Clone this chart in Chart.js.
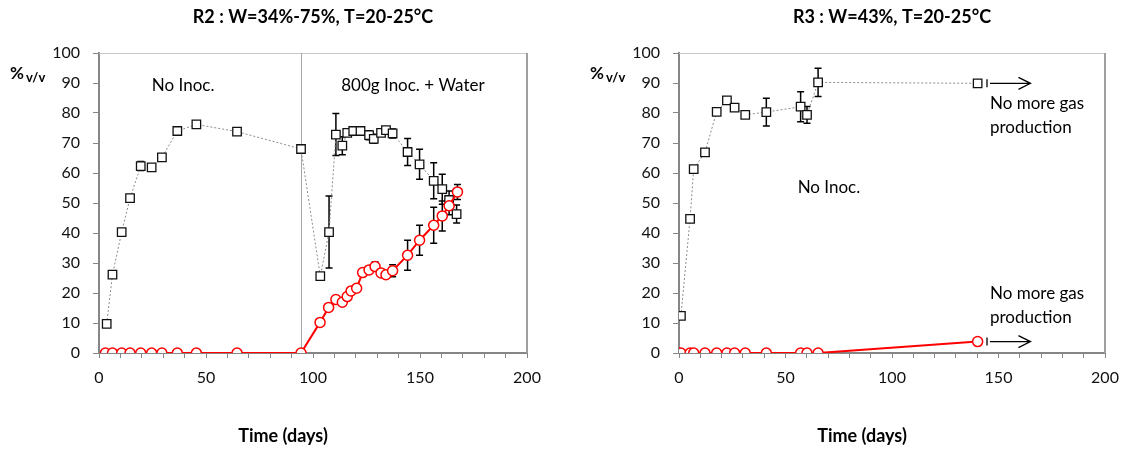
<!DOCTYPE html>
<html>
<head>
<meta charset="utf-8">
<script src="https://cdn.jsdelivr.net/npm/chart.js@4"></script>
<style>
  body { margin: 0; background: #fff; }
  #wrap { position: relative; width: 1129px; height: 453px; }
  canvas { position: absolute; top: 0; }
</style>
</head>
<body>
<div id="wrap">
  <canvas id="r2" width="560" height="453" style="left:0"></canvas>
  <canvas id="r3" width="549" height="453" style="left:580px"></canvas>
</div>
<script>
// R2 - squares (dotted grey line)
const r2SqDays = [3.6, 6.3, 10.6, 14.5, 19.5, 24.6, 29.4, 36.6, 45.5, 64.5, 94.4, 103.4, 107.5, 110.7, 113.7, 116, 118.8, 122.2, 126.2, 128.4, 131.8, 134.1, 137.2, 144.2, 149.8, 156.4, 160.4, 163.6, 167.1];
const r2SqVals = [9.7, 26.1, 40.3, 51.6, 62.3, 61.9, 65.2, 74, 76.2, 73.8, 68, 25.6, 40.3, 72.8, 69.1, 73.4, 74, 74, 72.6, 71.4, 73.4, 74.3, 73.2, 67, 62.9, 57.4, 54.6, 51, 46.3];
const r2SqErr  = [0, 0, 0, 0, 1.5, 0, 0, 0, 0, 0, 0, 0, 12, 7, 3, 1, 1, 1, 1.5, 1.5, 1, 1, 1.5, 4.5, 5, 6, 5, 3, 3];
// R2 - circles (red line)
const r2RdDays = [3, 6.3, 10.6, 14.5, 19.5, 24.6, 29.4, 36.6, 45.5, 64.5, 94.4, 103.3, 107.3, 110.7, 113.7, 116, 117.8, 120.4, 123.2, 126.2, 129, 131.8, 134.1, 137.2, 144.2, 149.8, 156.4, 160.4, 163.6, 167.5];
const r2RdVals = [0, 0, 0, 0, 0, 0, 0, 0, 0, 0, 0, 10.2, 15.2, 17.8, 16.9, 18.8, 20.7, 21.6, 26.8, 27.7, 28.8, 26.7, 26.1, 27.4, 32.6, 37.6, 42.6, 45.7, 49.1, 53.7];
const r2RdErr  = [0, 0, 0, 0, 0, 0, 0, 0, 0, 0, 0, 0, 0, 0, 0, 0, 0, 0, 0, 0, 1.5, 0, 0, 2, 5, 5, 6, 5, 3, 2.5];
const r2InocDay = 94.4;

// R3
const r3Days   = [0.9, 5.2, 6.9, 12.2, 17.7, 22.5, 26.1, 31.1, 41, 57.1, 60.1, 65.3, 140.2];
const r3SqVals = [12.4, 44.7, 61.3, 66.9, 80.4, 84.2, 81.8, 79.4, 80.3, 82.1, 79.4, 90.2, 89.9];
const r3SqErr  = [0, 1, 0, 0, 0, 0, 0, 0, 4.6, 5, 2.8, 4.7, 0];
const r3RdVals = [0, 0, 0, 0, 0, 0, 0, 0, 0, 0, 0, 0, 3.8];
const r3ArrowDays = [144.6, 165];

const xTicks = [0, 50, 100, 150, 200];

const FONT = 'Lato, "Open Sans", sans-serif';
Chart.defaults.font.family = FONT;
Chart.defaults.color = '#111';

function pts(days, vals) {
  return days.map((d, i) => ({ x: d, y: vals[i] }));
}

// frame, split line, error bars, texts, arrows
const deco = {
  id: 'deco',
  beforeDatasetsDraw(chart, args, o) {
    const { ctx, chartArea: a, scales: { x, y } } = chart;
    ctx.save();
    ctx.strokeStyle = '#c8c8c8';
    ctx.lineWidth = 1;
    ctx.beginPath();
    ctx.moveTo(a.left, a.top + 0.5);
    ctx.lineTo(a.right, a.top + 0.5);
    ctx.stroke();
    ctx.strokeStyle = '#a0a0a0';
    ctx.lineWidth = 2;
    ctx.beginPath();
    ctx.moveTo(a.right, a.top);
    ctx.lineTo(a.right, a.bottom);
    ctx.stroke();
    if (o.split != null) {
      const sx = Math.round(x.getPixelForValue(o.split)) + 0.5;
      ctx.strokeStyle = '#a6a6a6';
      ctx.lineWidth = 1;
      ctx.beginPath();
      ctx.moveTo(sx, a.top);
      ctx.lineTo(sx, a.bottom);
      ctx.stroke();
    }
    ctx.strokeStyle = '#000';
    ctx.lineWidth = 1.5;
    chart.data.datasets.forEach(ds => {
      if (!ds.errors) return;
      ds.data.forEach((p, j) => {
        const e = ds.errors[j];
        if (!e) return;
        const px = x.getPixelForValue(p.x);
        const y1 = y.getPixelForValue(p.y + e);
        const y2 = y.getPixelForValue(p.y - e);
        ctx.beginPath();
        ctx.moveTo(px, y1); ctx.lineTo(px, y2);
        ctx.moveTo(px - 3.5, y1); ctx.lineTo(px + 3.5, y1);
        ctx.moveTo(px - 3.5, y2); ctx.lineTo(px + 3.5, y2);
        ctx.stroke();
      });
    });
    ctx.restore();
  },
  afterDraw(chart, args, o) {
    const { ctx, chartArea: a, scales: { x, y } } = chart;
    const mid = (a.left + a.right) / 2;
    ctx.save();
    ctx.fillStyle = '#000';
    ctx.textBaseline = 'middle';
    ctx.textAlign = 'center';
    ctx.font = 'bold 18px ' + FONT;
    ctx.fillText(o.title, mid, 17);
    ctx.fillText('Time (days)', mid - 30, 436);
    // %v/v
    ctx.textAlign = 'left';
    ctx.font = 'bold 17px ' + FONT;
    ctx.fillText('%', a.left - 89, 74);
    ctx.font = 'bold 13px ' + FONT;
    ctx.fillText('v/v', a.left - 73, 78);
    // notes
    ctx.font = '17px ' + FONT;
    (o.notes || []).forEach(n => {
      ctx.textAlign = n.align;
      n.lines.forEach((t, k) => {
        ctx.fillText(t, x.getPixelForValue(n.x), y.getPixelForValue(n.y) + k * 24);
      });
    });
    // arrows
    ctx.strokeStyle = '#000';
    ctx.lineWidth = 1.3;
    (o.arrows || []).forEach(ar => {
      const x1 = x.getPixelForValue(ar.from), x2 = x.getPixelForValue(ar.to);
      const py = y.getPixelForValue(ar.y);
      ctx.beginPath();
      ctx.moveTo(x1, py - 4); ctx.lineTo(x1, py + 4);
      ctx.moveTo(x1 + 3, py); ctx.lineTo(x2, py);
      ctx.moveTo(x2 - 12, py - 6); ctx.lineTo(x2, py); ctx.lineTo(x2 - 12, py + 6);
      ctx.stroke();
    });
    ctx.restore();
  }
};

function makeChart(id, datasets, padRight, decoOpts) {
  return new Chart(document.getElementById(id), {
    type: 'line',
    data: { datasets },
    options: {
      responsive: false,
      animation: false,
      layout: { padding: { top: 53, right: padRight, left: 0, bottom: 0 } },
      plugins: { legend: { display: false }, tooltip: { enabled: false }, deco: decoOpts },
      scales: {
        x: {
          type: 'linear', min: 0, max: 200,
          afterFit: s => { s.height = 100; },
          border: { color: '#868686', width: 2 },
          grid: { drawOnChartArea: false, tickLength: 5, color: '#868686' },
          ticks: {
            stepSize: 10, autoSkip: false, maxRotation: 0, padding: 10,
            font: { size: 16 },
            callback: v => xTicks.includes(v) ? v : ''
          }
        },
        y: {
          min: 0, max: 100,
          afterFit: s => { s.width = 99; },
          border: { color: '#868686', width: 2 },
          grid: { drawOnChartArea: false, tickLength: 6, color: '#868686' },
          ticks: { stepSize: 10, padding: 13, font: { size: 16 } }
        }
      }
    },
    plugins: [deco]
  });
}

const redStyle = {
  borderColor: '#ff0000', borderWidth: 2, pointStyle: 'circle', pointRadius: 5,
  pointBorderWidth: 1.5, pointBorderColor: '#ff0000', pointBackgroundColor: '#fff', tension: 0
};
const sqStyle = {
  borderColor: '#8c8c8c', borderWidth: 1, borderDash: [2, 2], pointStyle: 'rect', pointRadius: 6,
  pointBorderWidth: 1.3, pointBorderColor: '#111', pointBackgroundColor: '#fff', tension: 0
};

makeChart('r2', [
  Object.assign({ data: pts(r2RdDays, r2RdVals), errors: r2RdErr }, redStyle),
  Object.assign({ data: pts(r2SqDays, r2SqVals), errors: r2SqErr }, sqStyle)
], 33, {
  title: 'R2 : W=34%-75%, T=20-25°C', split: r2InocDay,
  notes: [
    { lines: ['No Inoc.'], x: 39.3, y: 89, align: 'center' },
    { lines: ['800g Inoc. + Water'], x: 146.7, y: 89, align: 'center' }
  ]
});

makeChart('r3', [
  Object.assign({ data: pts(r3Days, r3RdVals) }, redStyle),
  Object.assign({ data: pts(r3Days, r3SqVals), errors: r3SqErr }, sqStyle)
], 24, {
  title: 'R3 : W=43%, T=20-25°C',
  notes: [
    { lines: ['No Inoc.'], x: 70.4, y: 55, align: 'center' },
    { lines: ['No more gas', 'production'], x: 146, y: 83, align: 'left' },
    { lines: ['No more gas', 'production'], x: 146, y: 19.7, align: 'left' }
  ],
  arrows: [
    { from: r3ArrowDays[0], to: r3ArrowDays[1], y: r3SqVals[r3SqVals.length - 1] },
    { from: r3ArrowDays[0], to: r3ArrowDays[1], y: r3RdVals[r3RdVals.length - 1] }
  ]
});
</script>
</body>
</html>
